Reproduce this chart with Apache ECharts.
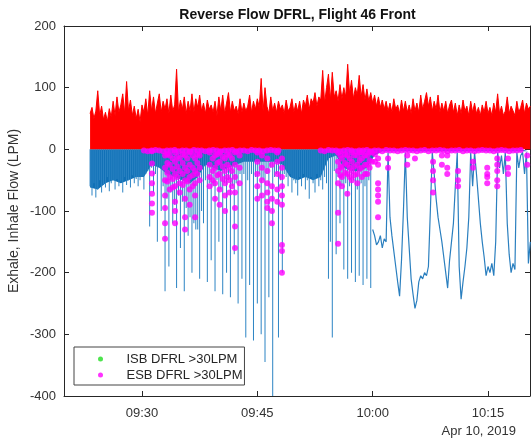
<!DOCTYPE html>
<html><head><meta charset="utf-8">
<script src="https://cdn.jsdelivr.net/npm/echarts@6.0.0/dist/echarts.min.js"></script>
<style>html,body{margin:0;padding:0;background:#fff}#chart{width:531px;height:440px}</style>
</head><body><div id="chart"></div>
<script>
const FONT = '"Liberation Sans", Arial, Helvetica, sans-serif';
const titleText = 'Reverse Flow DFRL, Flight 46 Front';
const yAxisTitle = 'Exhale, Inhale Flow (LPM)';
const dateText = 'Apr 10, 2019';
const seriesNames = ['ISB DFRL >30LPM', 'ESB DFRL >30LPM'];
// time in minutes after 09:00
const xTickMinutes = [30, 45, 60, 75];
const xRange = [19.86, 80.46];
const yRange = [-400, 200];
const yStep = 100;

// exhale flow (LPM), one sample per 0.25 min starting 09:23:15
const flowStart = 23.25;
const flowStep = 0.25;
const exhaleFlow = [
  58,68,50,62, 95,55,70,48, 60,45,66,52, 78,55,85,60, 72,90,58,110, 62,80,55,70, 50,65,45,72,
  60,82,55,95, 62,85,58,75, 90,60,78,65, 82,58,88,62, 72,130,60,80, 65,85,58,78, 62,90,60,82,
  68,88,62,75, 58,80,65,72, 60,78,55,85, 62,88,58,75, 92,60,78,62, 70,58,82,60, 75,62,70,88, 60,78,65,82,
  68,115,62,100, 70,58,85,62, 75,60,78,65, 72,58,80,62, 68,82,60,75, 62,78,58,80, 70,88,65,82, 75,92,70,85,
  80,128,75,100, 122,80,125,85, 95,78,105,82, 100,85,138,90, 112,82,100,88, 120,85,105,80, 98,78,92,75,
  88,70,85,68, 80,65,78,62, 75,60,82,65, 72,58,80,62, 78,60,72,58, 82,62,75,60, 88,65,78,92, 70,85,62,78,
  65,88,60,75, 62,78,58,72, 80,60,75,55, 72,58,80,62, 70,55,78,60, 75,58,68,55, 72,60,78,58, 68,55,75,60,
  90,58,70,55, 62,85,58,70, 72,55,78,60, 68,80,58,75, 65,70
];
// inhale flow, breath-by-breath part (09:23:15 to 09:59:45), same sampling
const inhaleSpikeFlow = [
  -60,-75,-55,-78,-65,-50,-70,-58,-62,-45,-68,-55,-50,-65,-48,-60,-52,-70,-45,-58,-50,-62,-42,-55,-48,-60,-50,-45,-65,-40,
  -35,-125,-30,-70,-40,-150,-30,-100,-60,-230,
  -80,-190,-70,-120,-90,-225,-75,-160,-85,-230,
  -95,-140,-110,-200,-120,-130,-130,-210,-100,-120,
  -50,-215,-55,-180,-60,-230,-50,-150,-65,-235,
  -55,-200,-50,-240,-60,-170,-55,-250,-40,-210,
  -40,-305,-50,-220,-40,-310,-45,-250,-40,-300,
  -50,-345,-40,-240,-30,-410,-45,-40,-305,-50,
  -200,-40,
  -45,-60,-40,-70,-50,-55,-75,-45,-60,-40,-65,-50,-80,-45,-55,-70,-40,-60,-50,-65,-45,-55,
  -210,-150,-305,-35,
  -170,-45,-120,-60,-195,-55,-210,-60,-200,-50,-215,-65,-205,-55,-220,-60,-210,-50,-225
];
// inhale flow, continuous trace from 10:00:00, same sampling
const inhaleTraceStart = 60.0;
const inhaleTrace = [
  -130,-140,-155,
  -150,-140,-160,-145,-150,
  -5,-110,-140,-165,-190,-215,-238,-180,-100,-5,
  -110,-160,-210,-235,-258,-245,-215,-205,-210,-200,-205,-190,-100,-5,
  -40,-80,-110,-130,-150,-175,-200,-225,-180,-150,-120,-60,-5,
  -190,-243,-215,-190,-160,-110,-5,-60,-5,
  -40,-80,-120,-150,-175,-205,-190,-200,-185,-205,-150,-5,-30,-10,-40,-5,
  -120,-170,-200,-185,-195,-5,-30,-10,-5,-40,-5,-185,-150
];
// dense inhale body (filled), one value per minute starting 09:23:15
const inhaleBodyStart = 23.25;
const inhaleBodyStep = 1;
const inhaleBody = [
  -62,-65,-55,-50,-55,-50,-45,-45,-25,-30,-40,-45,-50,-55,-45,-25,-30,-35,-30,-25,
  -20,-20,-20,-20,-20,-25,-45,-50,-45,-50,-45,-15,-10,-30,-35,-35,-30,-10,
  -3,-3,-3,-3,-3,-3,-3,-3,-3,-3,-3,-3,-3,-3,-3,-3,-3,-3,-3,-3
];

// ESB DFRL > 30 LPM events: columns of points
const esbColumnTime = [31.3,33.0,33.3,33.6,34.0,34.3,34.6,34.9,35.3,35.6,35.9,36.2,36.6,36.9,37.2,37.5,
  38.8,39.2,39.5,39.8,40.1,40.5,40.8,41.1,41.4,41.7,42.1,42.7,
  45.0,45.6,46.3,46.9,47.6,48.2,
  55.5,55.8,56.0,56.4,56.7,57.0,57.3,57.6,58.0,58.3,58.6,59.0,59.3,59.6,59.9,60.3,60.7,62.0,64.5,65.5,
  67.85,69.0,69.7,71.1,73.05,74.9,76.2,77.6,80.1];
const esbColumnFlow = [
  [-3,-23,-39,-55,-72,-88,-103],
  [-10,-30,-50,-75,-95,-120,-145],
  [-8,-22,-38,-52],
  [-10,-25,-45,-65],
  [-15,-32,-48,-62],
  [-5,-20,-40,-60,-85,-100,-120],
  [-12,-28,-45],
  [-15,-35,-55,-70],
  [-8,-22,-40,-58],
  [-10,-30,-50,-80,-110,-130],
  [-15,-35,-52],
  [-5,-25,-45,-65,-90],
  [-10,-30,-42,-60],
  [-15,-35,-55,-75,-110],
  [-8,-22,-40],
  [-10,-30,-50],
  [-5,-25,-45,-60],
  [-15,-35,-50],
  [-10,-30,-55,-80],
  [-8,-22,-42],
  [-5,-20,-40,-65,-90],
  [-12,-28,-48],
  [-15,-35,-55,-75,-100],
  [-8,-25,-45],
  [-10,-30,-50,-70],
  [-15,-35,-60],
  [-5,-25,-45,-70,-95,-125,-160],
  [-10,-30,-55],
  [-5,-20,-40,-60,-80],
  [-10,-30,-50,-75],
  [-15,-35,-55,-70,-85,-95],
  [-25,-60,-80,-100,-120],
  [-5,-20,-40,-65,-85],
  [-15,-30,-45,-60,-75,-90,-155,-165,-200],
  [-5,-20,-35,-55,-103,-153],
  [-10,-28,-42],
  [-15,-30,-45,-60],
  [-8,-22,-38],
  [-10,-25,-40,-72],
  [-15,-30,-45],
  [-5,-20,-35,-50],
  [-10,-28,-42],
  [-10,-25,-40,-55],
  [-5,-18,-32],
  [-5,-15,-30,-45],
  [-10,-25,-40],
  [-10,-25,-40],
  [-5,-18,-30],
  [-5,-20],
  [-8,-20],
  [-15,-25,-55,-65,-75,-85,-110],
  [-15,-30],
  [-10,-25],
  [-15],
  [-20,-35,-50,-70],
  [-10,-25],
  [-10,-30,-40],
  [-35,-50,-60],
  [-20,-30],
  [-30,-40,-45,-55],
  [-15,-25,-35,-50,-60],
  [-15,-30,-40],
  [-10,-25]
];
// ESB events sitting on the zero line
const esbBandTime = [30.25,30.75,31.25,31.75,32.25,32.75,33.25,33.75,34.25,34.75,35.25,35.75,36.25,36.75,37.25,37.75,
  38.25,38.75,39.25,39.75,40.25,40.75,41.25,41.75,42.25,42.75,43.25,43.75,44.25,44.75,45.25,45.75,46.25,46.75,47.25,47.75,
  53.25,53.75,54.25,54.75,55.25,55.75,56.25,56.75,57.25,57.75,58.25,58.75,59.25,59.75,60.25,60.75,61.25,61.75,62.25,62.75,
  63.25,63.75,64.25,64.75,65.25,65.75,66.25,66.75,67.25,67.75,68.25,68.75,69.25,69.75,70.25,70.75,71.25,71.75,72.25,72.75,
  73.25,73.75,74.25,74.75,75.25,75.75,76.25,76.75,77.25,77.75,78.25,78.75,79.25];
const esbBandFlow = [-2,-3,-2,-1,-2,-3,-2,-2,-1,-3,-2,-2,-3,-1,-2,-2,-3,-2,-1,-2,-3,-2,-2,-1,-3,-2,-2,-3,-1,-2,-2,-3,-2,-1,-2,-2,
  -2,-3,-1,-2,-2,-3,-2,-1,-2,-3,-2,-2,-1,-3,-2,-2,-3,-1,-2,-2,-3,-2,-1,-2,-2,-3,-2,-1,-3,-2,
  -2,-1,-2,-3,-2,-2,-1,-3,-2,-2,-3,-2,-1,-2,-2,-3,-2,-1,-2,-3,-2,-2,-1];
// ISB events: none visible
const isbPoints = [];

const toXY = (arr, start, step) => arr.map((v, i) => [start + i * step, v]);
const esbPoints = [];
esbColumnTime.forEach((t, k) => esbColumnFlow[k].forEach(v => esbPoints.push([t, v])));
esbBandTime.forEach((t, k) => esbPoints.push([t, esbBandFlow[k]]));

const fmtTime = m => { const h = 9 + Math.floor(m / 60); const mm = Math.round(m % 60); return String(h).padStart(2, '0') + ':' + String(mm).padStart(2, '0'); };
const AX = '#262626';
const axisCommon = (show) => ({
  type: 'value', min: xRange[0], max: xRange[1],
  axisLine: { show: true, onZero: false, lineStyle: { color: AX, width: 1 } },
  axisTick: { show: true, inside: true, length: 5, customValues: xTickMinutes, lineStyle: { color: AX } },
  axisLabel: { show: show, customValues: xTickMinutes, formatter: fmtTime, fontFamily: FONT, fontSize: 13, color: '#333', margin: 11 },
  splitLine: { show: false }
});
const yCommon = (show) => ({
  type: 'value', min: yRange[0], max: yRange[1], interval: yStep,
  axisLine: { show: true, onZero: false, lineStyle: { color: AX, width: 1 } },
  axisTick: { show: true, inside: true, length: 5, lineStyle: { color: AX } },
  axisLabel: { show: show, fontFamily: FONT, fontSize: 13, color: '#333', margin: 8 },
  splitLine: { show: false }
});

const chart = echarts.init(document.getElementById('chart'), null, { renderer: 'canvas' });
chart.setOption({
  animation: false,
  backgroundColor: '#fff',
  grid: { left: 64, right: 1, top: 26, bottom: 44 },
  xAxis: [Object.assign(axisCommon(true), { position: 'bottom' }), Object.assign(axisCommon(false), { position: 'top' })],
  yAxis: [Object.assign(yCommon(true), { position: 'left' }), Object.assign(yCommon(false), { position: 'right' })],
  legend: {
    orient: 'vertical', left: 74, top: 347, data: seriesNames, icon: 'circle',
    itemWidth: 42, itemHeight: 5, itemGap: 2, padding: [5, 2, 3, 24],
    backgroundColor: '#fff', borderColor: '#444', borderWidth: 1, selectedMode: false,
    textStyle: { fontFamily: FONT, fontSize: 13, color: '#262626', lineHeight: 14 }
  },
  graphic: [
    { type: 'text', x: 297.5, y: 15, style: { text: titleText, font: 'bold 14px ' + FONT, fill: '#111', align: 'center', verticalAlign: 'middle', textAlign: 'center', textVerticalAlign: 'middle' } },
    { type: 'text', x: 14, y: 211, rotation: Math.PI / 2, style: { text: yAxisTitle, font: '14px ' + FONT, fill: '#333', align: 'center', verticalAlign: 'middle', textAlign: 'center', textVerticalAlign: 'middle' } },
    { type: 'text', x: 516, y: 431, style: { text: dateText, font: '13px ' + FONT, fill: '#333', align: 'right', verticalAlign: 'middle', textAlign: 'right', textVerticalAlign: 'middle' } }
  ],
  series: [
    { name: 'inhaleBody', type: 'line', data: toXY(inhaleBody, inhaleBodyStart, inhaleBodyStep), symbol: 'none', silent: true, z: 1,
      lineStyle: { width: 0, color: '#0072BD' }, areaStyle: { color: '#1070b6', opacity: 1 } },
    { name: 'inhaleSpikes', type: 'bar', data: toXY(inhaleSpikeFlow, flowStart, flowStep), barWidth: 1, silent: true, z: 2,
      itemStyle: { color: '#2c84c4' } },
    { name: 'inhaleTrace', type: 'line', data: toXY(inhaleTrace, inhaleTraceStart, flowStep), symbol: 'none', silent: true, z: 2,
      lineStyle: { width: 1.2, color: '#2a7fbf' } },
    { name: 'exhale', type: 'line', data: toXY(exhaleFlow, flowStart, flowStep), symbol: 'none', silent: true, z: 3,
      lineStyle: { width: 1, color: '#ff0000' }, areaStyle: { color: '#ff0000', opacity: 1 } },
    { name: seriesNames[0], type: 'scatter', data: isbPoints, symbol: 'circle', symbolSize: 6, itemStyle: { color: '#22dd22' }, z: 4 },
    { name: seriesNames[1], type: 'scatter', data: esbPoints, symbol: 'circle', symbolSize: 6, itemStyle: { color: '#ff00ff' }, z: 4, silent: true }
  ]
});
</script></body></html>
